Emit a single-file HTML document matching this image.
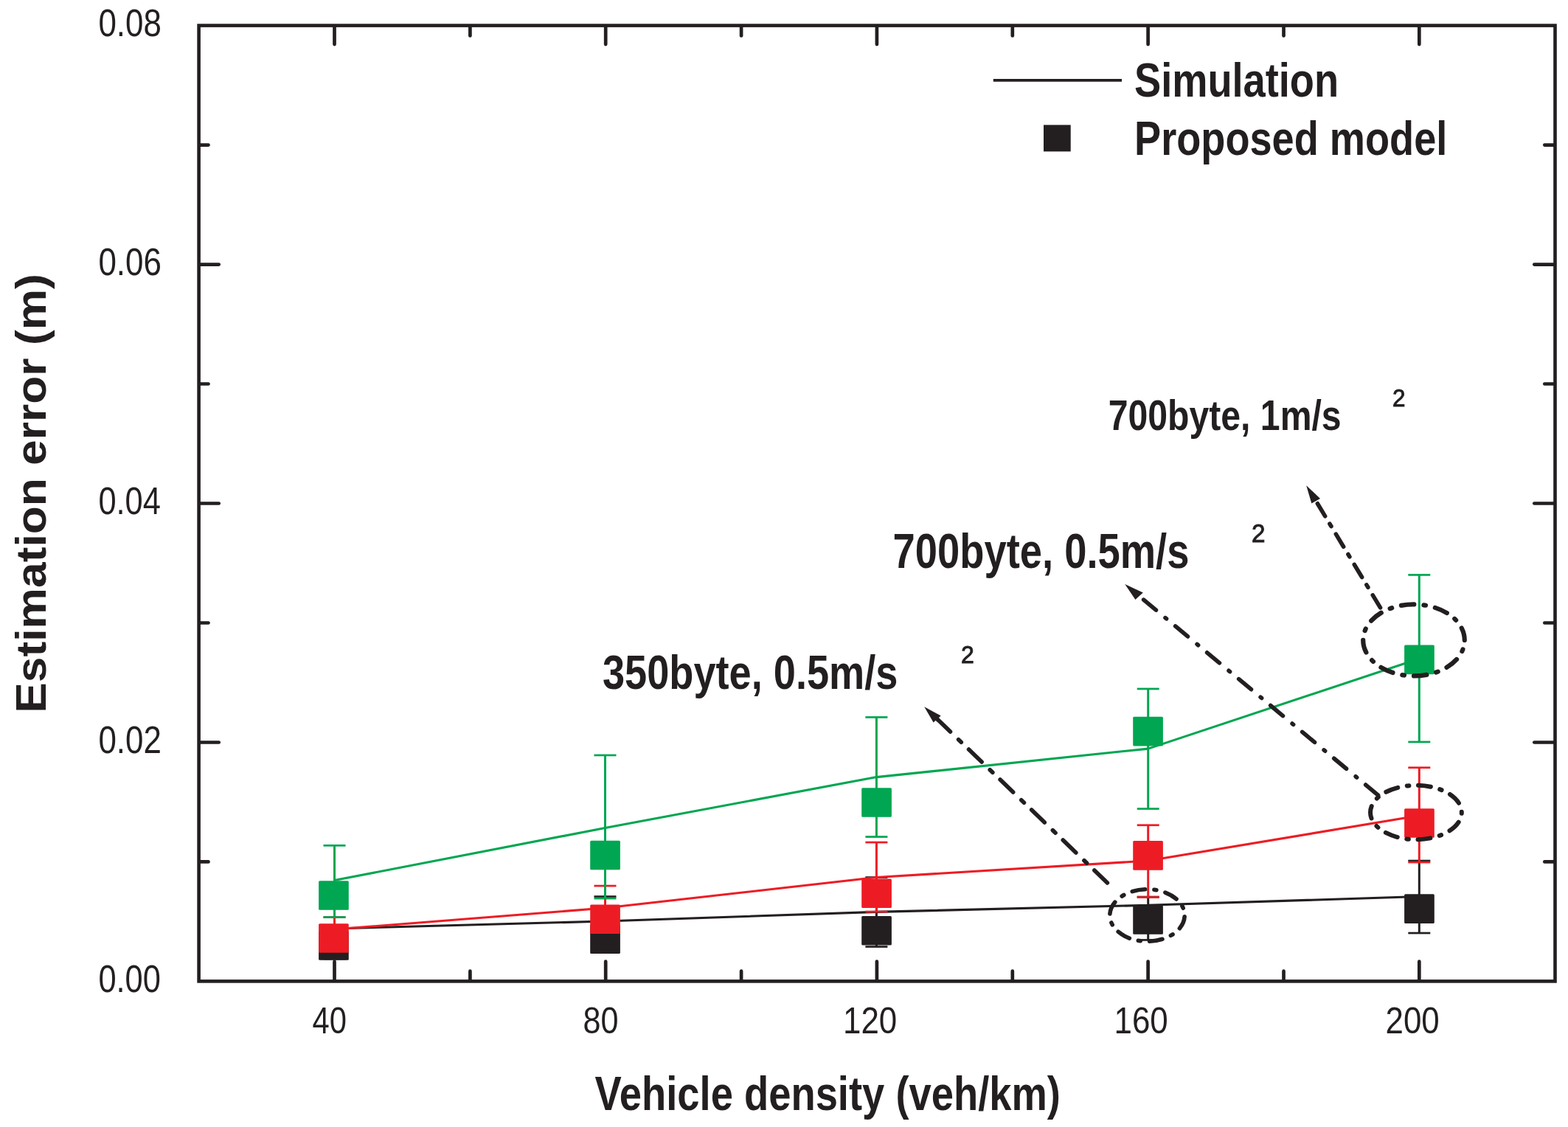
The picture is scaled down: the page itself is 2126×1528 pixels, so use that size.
<!DOCTYPE html>
<html><head><meta charset="utf-8"><title>Estimation error vs vehicle density</title>
<style>html,body{margin:0;padding:0;background:#fff;}svg{display:block;}</style>
</head><body>
<svg width="2126" height="1528" viewBox="0 0 2126 1528">
<rect width="2126" height="1528" fill="#fff"/>
<rect x="269.6" y="34.6" width="1838.9" height="1295.8" fill="none" stroke="#231f20" stroke-width="4.6" stroke-linejoin="miter"/>
<g stroke="#231f20" stroke-width="4.7" stroke-linecap="round"><line x1="453.5" y1="1329.4" x2="453.5" y2="1303.7"/><line x1="453.5" y1="35.6" x2="453.5" y2="60.1"/><line x1="821.2" y1="1329.4" x2="821.2" y2="1303.7"/><line x1="821.2" y1="35.6" x2="821.2" y2="60.1"/><line x1="1188.9" y1="1329.4" x2="1188.9" y2="1303.7"/><line x1="1188.9" y1="35.6" x2="1188.9" y2="60.1"/><line x1="1556.6" y1="1329.4" x2="1556.6" y2="1303.7"/><line x1="1556.6" y1="35.6" x2="1556.6" y2="60.1"/><line x1="1924.3" y1="1329.4" x2="1924.3" y2="1303.7"/><line x1="1924.3" y1="35.6" x2="1924.3" y2="60.1"/><line x1="637.4" y1="1329.4" x2="637.4" y2="1316.7"/><line x1="637.4" y1="35.6" x2="637.4" y2="48.5"/><line x1="1005.1" y1="1329.4" x2="1005.1" y2="1316.7"/><line x1="1005.1" y1="35.6" x2="1005.1" y2="48.5"/><line x1="1372.8" y1="1329.4" x2="1372.8" y2="1316.7"/><line x1="1372.8" y1="35.6" x2="1372.8" y2="48.5"/><line x1="1740.5" y1="1329.4" x2="1740.5" y2="1316.7"/><line x1="1740.5" y1="35.6" x2="1740.5" y2="48.5"/><line x1="270.6" y1="1168.4" x2="282.5" y2="1168.4"/><line x1="2107.5" y1="1168.4" x2="2094.3" y2="1168.4"/><line x1="270.6" y1="1006.5" x2="296.7" y2="1006.5"/><line x1="2107.5" y1="1006.5" x2="2080.3" y2="1006.5"/><line x1="270.6" y1="844.5" x2="282.5" y2="844.5"/><line x1="2107.5" y1="844.5" x2="2094.3" y2="844.5"/><line x1="270.6" y1="682.5" x2="296.7" y2="682.5"/><line x1="2107.5" y1="682.5" x2="2080.3" y2="682.5"/><line x1="270.6" y1="520.5" x2="282.5" y2="520.5"/><line x1="2107.5" y1="520.5" x2="2094.3" y2="520.5"/><line x1="270.6" y1="358.6" x2="296.7" y2="358.6"/><line x1="2107.5" y1="358.6" x2="2080.3" y2="358.6"/><line x1="270.6" y1="196.6" x2="282.5" y2="196.6"/><line x1="2107.5" y1="196.6" x2="2094.3" y2="196.6"/></g>
<g fill="#231f20" stroke="none"><rect x="452.0" y="1262.0" width="3.0" height="38.0"/><rect x="438.5" y="1260.7" width="30.0" height="2.7"/><rect x="438.5" y="1298.7" width="30.0" height="2.7"/><rect x="819.0" y="1215.6" width="3.0" height="74.4"/><rect x="805.5" y="1214.2" width="30.0" height="2.7"/><rect x="805.5" y="1288.7" width="30.0" height="2.7"/><rect x="1186.9" y="1189.5" width="3.0" height="94.0"/><rect x="1173.4" y="1188.2" width="30.0" height="2.7"/><rect x="1173.4" y="1282.2" width="30.0" height="2.7"/><rect x="1555.2" y="1216.0" width="3.0" height="58.4"/><rect x="1541.7" y="1214.7" width="30.0" height="2.7"/><rect x="1541.7" y="1273.1" width="30.0" height="2.7"/><rect x="1922.8" y="1167.0" width="3.0" height="98.0"/><rect x="1909.3" y="1165.7" width="30.0" height="2.7"/><rect x="1909.3" y="1263.7" width="30.0" height="2.7"/><polyline points="453.5,1259.0 820.5,1249.0 1188.4,1236.4 1556.7,1227.3 1924.3,1215.5" fill="none" stroke="#231f20" stroke-width="3.1" stroke-linejoin="bevel"/><rect x="432.1" y="1262.2" width="40.7" height="39.6" rx="1.5"/><rect x="800.2" y="1253.4" width="40.7" height="39.6" rx="1.5"/><rect x="1168.2" y="1241.9" width="40.7" height="39.6" rx="1.5"/><rect x="1536.2" y="1227.2" width="40.7" height="39.6" rx="1.5"/><rect x="1904.1" y="1212.3" width="40.7" height="39.6" rx="1.5"/></g>
<g fill="#ed1c24" stroke="none"><rect x="452.0" y="1243.5" width="3.0" height="36.5"/><rect x="438.5" y="1242.2" width="30.0" height="2.7"/><rect x="438.5" y="1278.7" width="30.0" height="2.7"/><rect x="819.0" y="1201.0" width="3.0" height="59.0"/><rect x="805.5" y="1199.7" width="30.0" height="2.7"/><rect x="805.5" y="1258.7" width="30.0" height="2.7"/><rect x="1186.9" y="1142.0" width="3.0" height="94.0"/><rect x="1173.4" y="1140.7" width="30.0" height="2.7"/><rect x="1173.4" y="1234.7" width="30.0" height="2.7"/><rect x="1555.2" y="1118.7" width="3.0" height="97.8"/><rect x="1541.7" y="1117.4" width="30.0" height="2.7"/><rect x="1541.7" y="1215.2" width="30.0" height="2.7"/><rect x="1922.8" y="1040.7" width="3.0" height="128.3"/><rect x="1909.3" y="1039.4" width="30.0" height="2.7"/><rect x="1909.3" y="1167.7" width="30.0" height="2.7"/><polyline points="453.5,1260.0 820.5,1231.0 1188.4,1189.5 1556.7,1167.0 1924.3,1105.8" fill="none" stroke="#ed1c24" stroke-width="3.1" stroke-linejoin="bevel"/><rect x="432.1" y="1252.2" width="40.7" height="39.6" rx="1.5"/><rect x="800.2" y="1226.4" width="40.7" height="39.6" rx="1.5"/><rect x="1168.2" y="1191.4" width="40.7" height="39.6" rx="1.5"/><rect x="1536.2" y="1140.1" width="40.7" height="39.6" rx="1.5"/><rect x="1904.1" y="1096.2" width="40.7" height="39.6" rx="1.5"/></g>
<g fill="#00a651" stroke="none"><rect x="452.0" y="1146.3" width="3.0" height="97.2"/><rect x="438.5" y="1145.0" width="30.0" height="2.7"/><rect x="438.5" y="1242.2" width="30.0" height="2.7"/><rect x="819.0" y="1024.0" width="3.0" height="194.0"/><rect x="805.5" y="1022.6" width="30.0" height="2.7"/><rect x="805.5" y="1216.7" width="30.0" height="2.7"/><rect x="1186.9" y="972.5" width="3.0" height="162.0"/><rect x="1173.4" y="971.1" width="30.0" height="2.7"/><rect x="1173.4" y="1133.2" width="30.0" height="2.7"/><rect x="1555.2" y="934.0" width="3.0" height="162.5"/><rect x="1541.7" y="932.6" width="30.0" height="2.7"/><rect x="1541.7" y="1095.2" width="30.0" height="2.7"/><rect x="1922.8" y="779.5" width="3.0" height="226.5"/><rect x="1909.3" y="778.1" width="30.0" height="2.7"/><rect x="1909.3" y="1004.6" width="30.0" height="2.7"/><polyline points="453.5,1193.5 820.5,1122.5 1188.4,1053.6 1556.7,1015.1 1924.3,893.0" fill="none" stroke="#00a651" stroke-width="3.1" stroke-linejoin="bevel"/><rect x="432.1" y="1194.2" width="40.7" height="39.6" rx="1.5"/><rect x="800.2" y="1139.7" width="40.7" height="39.6" rx="1.5"/><rect x="1168.2" y="1068.2" width="40.7" height="39.6" rx="1.5"/><rect x="1536.2" y="971.8" width="40.7" height="39.6" rx="1.5"/><rect x="1904.1" y="874.6" width="40.7" height="39.6" rx="1.5"/></g>
<g fill="none" stroke="#231f20" stroke-width="5.6" stroke-linecap="round"><ellipse cx="1917.0" cy="867.9" rx="68.8" ry="48.5" stroke-width="6.2" stroke-dasharray="17.50 13.11 2.69 13.11" stroke-dashoffset="17.64"/><ellipse cx="1919.9" cy="1101.5" rx="61.9" ry="36.7" stroke-width="6.0" stroke-dasharray="16.97 12.70 2.61 12.70" stroke-dashoffset="30.97"/><ellipse cx="1555.5" cy="1241.0" rx="50.7" ry="35.3" stroke-width="5.6" stroke-dasharray="17.58 12.36 3.09 12.36" stroke-dashoffset="43.56"/><line x1="1784.2" y1="679.2" x2="1871.9" y2="824.5" stroke-dasharray="19.90 12.10 3.90 12.40" stroke-dashoffset="44.10"/><line x1="1544.6" y1="808.1" x2="1869.0" y2="1078.5" stroke-dasharray="21.90 16.40 2.00 15.70" stroke-dashoffset="48.20"/><line x1="1270.7" y1="974.9" x2="1503.9" y2="1199.3" stroke-dasharray="24.40 15.40 5.10 14.20" stroke-dashoffset="58.80"/></g>
<polygon fill="#231f20" points="1771.2,658.2 1790.0,675.9 1778.3,682.5"/><polygon fill="#231f20" points="1525.2,792.0 1549.8,803.4 1539.4,812.9"/><polygon fill="#231f20" points="1253.2,958.2 1275.7,970.4 1265.6,979.4"/>
<line x1="1346.8" y1="108.8" x2="1521" y2="108.8" stroke="#231f20" stroke-width="3.8"/>
<rect x="1415" y="169.4" width="36.7" height="36" fill="#231f20"/>
<g fill="#231f20" font-family="'Liberation Sans', sans-serif"><text id="yl8" x="133.4" y="49.0" font-size="51.6" font-weight="normal" textLength="85.5" lengthAdjust="spacingAndGlyphs">0.08</text><text id="yl6" x="133.4" y="372.7" font-size="51.6" font-weight="normal" textLength="85.5" lengthAdjust="spacingAndGlyphs">0.06</text><text id="yl4" x="133.4" y="696.5" font-size="51.6" font-weight="normal" textLength="84.5" lengthAdjust="spacingAndGlyphs">0.04</text><text id="yl2" x="133.4" y="1021.2" font-size="51.6" font-weight="normal" textLength="85.5" lengthAdjust="spacingAndGlyphs">0.02</text><text id="yl0" x="133.4" y="1345.0" font-size="51.6" font-weight="normal" textLength="84.5" lengthAdjust="spacingAndGlyphs">0.00</text><text id="xl40" x="423.5" y="1400.5" font-size="50.4" font-weight="normal" textLength="46.4" lengthAdjust="spacingAndGlyphs">40</text><text id="xl80" x="790.5" y="1400.5" font-size="50.4" font-weight="normal" textLength="48.0" lengthAdjust="spacingAndGlyphs">80</text><text id="xl120" x="1143.0" y="1400.5" font-size="50.4" font-weight="normal" textLength="73.2" lengthAdjust="spacingAndGlyphs">120</text><text id="xl160" x="1510.5" y="1400.5" font-size="50.4" font-weight="normal" textLength="73.2" lengthAdjust="spacingAndGlyphs">160</text><text id="xl200" x="1878.5" y="1400.5" font-size="50.4" font-weight="normal" textLength="73.2" lengthAdjust="spacingAndGlyphs">200</text><text id="leg1" x="1538.0" y="131.0" font-size="65.4" font-weight="bold" textLength="277.1" lengthAdjust="spacingAndGlyphs">Simulation</text><text id="leg2" x="1538.0" y="210.0" font-size="65.4" font-weight="bold" textLength="424.4" lengthAdjust="spacingAndGlyphs">Proposed model</text><text id="an1" x="1502.8" y="582.8" font-size="57.7" font-weight="bold" textLength="315.8" lengthAdjust="spacingAndGlyphs">700byte, 1m/s</text><text stroke="#231f20" stroke-width="1.0" id="an1s" x="1888.0" y="550.7" font-size="33.9" font-weight="normal" textLength="17.5" lengthAdjust="spacingAndGlyphs">2</text><text id="an2" x="1210.5" y="770.3" font-size="66.0" font-weight="bold" textLength="401.9" lengthAdjust="spacingAndGlyphs">700byte, 0.5m/s</text><text stroke="#231f20" stroke-width="1.0" id="an2s" x="1696.9" y="734.7" font-size="35.4" font-weight="normal" textLength="18.5" lengthAdjust="spacingAndGlyphs">2</text><text id="an3" x="817.0" y="934.2" font-size="65.4" font-weight="bold" textLength="400.4" lengthAdjust="spacingAndGlyphs">350byte, 0.5m/s</text><text stroke="#231f20" stroke-width="1.0" id="an3s" x="1303.0" y="898.7" font-size="33.9" font-weight="normal" textLength="17.8" lengthAdjust="spacingAndGlyphs">2</text><text id="xt" x="806.6" y="1505.0" font-size="64.5" font-weight="bold" textLength="631.3" lengthAdjust="spacingAndGlyphs">Vehicle density (veh/km)</text><text id="yt" x="62.0" y="966.7" font-size="58.1" font-weight="bold" textLength="595.5" lengthAdjust="spacingAndGlyphs" transform="rotate(-90 62.0 966.7)">Estimation error (m)</text></g>
</svg>
</body></html>
